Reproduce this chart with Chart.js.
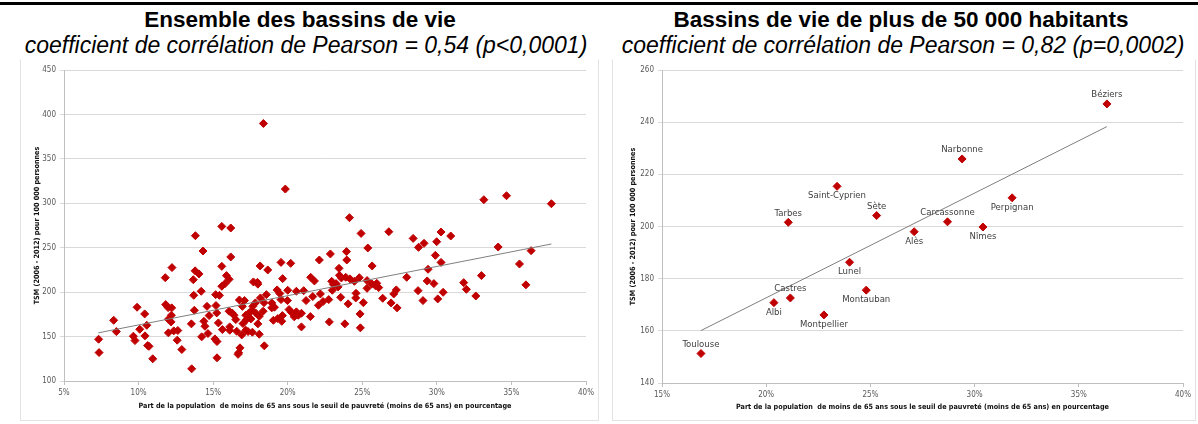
<!DOCTYPE html>
<html><head><meta charset="utf-8">
<script src="https://cdn.jsdelivr.net/npm/chart.js@4.4.0/dist/chart.umd.min.js"></script>
<style>
body{margin:0;width:1198px;height:424px;background:#fff;position:relative;overflow:hidden;font-family:'Liberation Sans',Arial,sans-serif}
.bar{position:absolute;left:0;top:2px;width:1198px;height:3px;background:#000}
.t{position:absolute;width:640px;text-align:center;white-space:nowrap;color:#000}
.t1{font-weight:bold;font-size:22.5px;line-height:22px;top:9px}
.t2{font-style:italic;font-size:23px;line-height:23px;top:34px}
.frame{position:absolute;border:1px solid #e3e3e3;border-top-color:#fff;box-sizing:border-box}
canvas{position:absolute}
</style></head><body>
<div class="bar"></div>
<div class="t t1" style="left:-20px">Ensemble des bassins de vie</div>
<div class="t t2" style="left:-14px">coefficient de corrélation de Pearson = 0,54 (p&lt;0,0001)</div>
<div class="t t1" style="left:581px">Bassins de vie de plus de 50 000 habitants</div>
<div class="t t2" style="left:583px">coefficient de corrélation de Pearson = 0,82 (p=0,0002)</div>
<div class="frame" style="left:20px;top:59px;width:579px;height:362px"></div>
<div class="frame" style="left:612px;top:59px;width:584px;height:362px"></div>
<canvas id="c1" width="578" height="360" style="left:20px;top:60px"></canvas>
<canvas id="c2" width="584" height="360" style="left:612px;top:60px"></canvas>
<script>
// ---- Left chart: all living areas ----
const leftX = [19.84,15.58,16.18,13.81,14.32,16.18,15.58,12.24,11.79,13.79,14.05,13.67,15.89,16.07,15.8,15.58,18.15,18.66,19.55,20.2,19.66,21.54,17.7,17.97,18.0,14.2,13.7,15.17,15.42,16.76,17.1,18.17,18.57,19.29,19.47,20.0,20.58,21.07,21.68,21.23,19.98,19.55,18.93,18.41,17.83,17.66,16.96,14.59,15.19,9.9,11.82,11.98,12.22,10.41,12.2,13.74,15.24,14.73,16.07,16.27,16.4,16.52,17.19,17.36,17.58,17.85,18.09,17.24,17.53,18.35,18.93,19.11,19.04,19.33,19.64,19.6,20.09,20.25,20.58,20.71,20.44,20.92,21.52,20.92,8.33,8.51,7.32,7.35,9.65,9.76,10.08,10.55,10.43,10.61,10.7,10.95,12.0,12.18,12.0,12.36,12.63,12.59,12.9,13.54,13.56,14.23,14.38,14.45,14.65,15.12,15.26,15.26,15.35,15.62,16.11,16.11,16.58,16.92,17.19,17.34,17.63,18.09,16.8,16.71,16.67,18.43,17.0,18.0,18.37,
24.14,24.92,26.78,25.37,23.94,23.96,22.12,22.86,25.66,23.44,21.79,22.95,23.06,23.47,23.6,23.89,24.18,24.47,24.8,23.38,23.24,25.32,25.64,25.32,25.88,26.1,25.97,22.19,22.06,22.37,22.75,22.99,23.55,24.05,24.58,24.56,25.07,24.85,24.87,22.79,23.83,26.37,26.93,27.11,27.28,27.33,27.98,28.41,28.77,29.14,29.99,30.28,30.93,29.9,30.28,29.41,28.74,29.35,29.8,29.07,30.06,30.42,31.8,31.98,32.61,32.99,33.15,34.67,37.68,34.11,36.32,35.54,35.97];
const leftY = [316,274,272.2,263.5,246.3,239.6,229,227.6,216.3,224,220.5,214,218.6,214.4,209.6,206.6,229.5,225,233.5,232.4,215.2,216.7,211.5,211,209,201,196.4,197.2,196.4,191.2,190.5,193.5,197.2,202.5,198.4,202.1,201,201.7,195,190.5,190.5,191.6,187.9,188.2,187.9,184,184,184,184.9,183,186,182.6,182.3,175.5,174,179.6,176.6,173.6,178.5,176.6,174,169.1,174,175.9,179.2,176.6,172.8,169.1,169.9,178.5,182.3,183,168.3,170.2,173.6,167.2,180.4,177.3,177.8,174,172.2,176.2,172.5,160.9,168.3,155.6,147,132,150.4,145.5,158.2,162.7,150.8,139.9,139,125,169.5,166.5,154.2,156.4,156.8,145.9,135.4,164.3,113.7,149.7,167.2,161.6,153.4,147.4,144.4,126.1,165.4,157.9,160.9,157.1,156,151.9,157.1,155.6,154.9,152.6,137.3,131.7,130,139.6,164.6,164.3,389.8,
283.8,266.1,268,249.7,245.6,236.2,236.2,243,229.5,226.8,212.6,212.2,208.5,218.9,216,216.7,214.9,212.2,216.3,205.9,209.6,213,209.3,204.3,207.3,205.1,209.9,198,185.2,189.4,191.6,202.1,194.2,186.8,198.7,193.5,188.2,175.5,159.8,166.5,164.3,193.1,187.9,198,202.5,182.3,216.7,260.5,250.4,254.9,256.8,267.7,263.2,241.4,233.5,225.7,201.7,212.6,209.6,190.5,192.4,199.8,210.7,203.2,195.7,218.6,304,308.5,299.5,250.8,246.7,231.7,208.2];
const leftTrendX = [7.3, 37.68];
const leftTrendY = [154.2, 254.2];

// ---- Right chart: living areas > 50 000 inhabitants ----
const rightNames = ['Béziers','Narbonne','Perpignan','Carcassonne','Nîmes','Alès','Sète','Saint-Cyprien','Tarbes','Lunel','Montauban','Castres','Albi','Montpellier','Toulouse'];
const rightX = [36.35,29.4,31.8,28.7,30.4,27.1,25.3,23.4,21.06,24.0,24.8,21.16,20.37,22.77,16.87];
const rightY = [247,225.9,211,201.8,199.8,198,204.2,215.4,201.6,186.3,175.6,172.6,170.8,166.1,151.3];
const rightLabelPos = ['above','above','below','above','below','below','above','below','above','below','below','above','below','below','above'];
const rightTrendX = [16.87, 36.35];
const rightTrendY = [160.1, 238.3];

// ---- Axis ticks / titles ----
const leftXTicks = [5,10,15,20,25,30,35,40];
const leftYTicks = [100,150,200,250,300,350,400,450];
const rightXTicks = [15,20,25,30,35,40];
const rightYTicks = [140,160,180,200,220,240,260];
const yTitle = 'TSM (2006 - 2012) pour 100 000 personnes';
const xTitle = 'Part de la population  de moins de 65 ans sous le seuil de pauvreté (moins de 65 ans) en pourcentage';

const FONT = "'Liberation Sans Narrow','DejaVu Sans Condensed','Liberation Sans',sans-serif";
Chart.defaults.font.family = FONT;
Chart.defaults.devicePixelRatio = 1;

const RED = '#c00000';
function pts(xs, ys){ return xs.map((x,i)=>({x:x, y:ys[i]})); }

function makeChart(id, cfg){
  const ds = [
    {data: pts(cfg.px, cfg.py), pointStyle:'rectRot', pointRadius:4, pointBorderWidth:1,
     backgroundColor:RED, borderColor:RED, showLine:false, order:1},
    {data: pts(cfg.tx, cfg.ty), showLine:true, pointRadius:0, borderColor:'#7f7f7f', borderWidth:1, order:0}
  ];
  return new Chart(document.getElementById(id), {
    type:'scatter',
    data:{datasets:ds},
    plugins: cfg.plugins || [],
    options:{
      responsive:false, animation:false, devicePixelRatio:1,
      layout:{padding:{left:0,right:cfg.padR,top:cfg.padT,bottom:0}},
      plugins:{legend:{display:false}, tooltip:{enabled:false}},
      scales:{
        x:{type:'linear', min:cfg.xTicks[0], max:cfg.xTicks[cfg.xTicks.length-1],
           afterBuildTicks: s => { s.ticks = cfg.xTicks.map(v=>({value:v})); },
           afterFit: s => { s.height = cfg.xH; },
           ticks:{color:'#595959', font:{size:8}, padding:3, maxRotation:0, callback:v=>v+'%'},
           grid:{drawOnChartArea:false, color:'#bfbfbf', tickLength:4},
           border:{color:'#bfbfbf'},
           title:{display:true, text:xTitle, color:'#111', font:{size:7.2, weight:'bold'}, padding:{top:0,bottom:cfg.xTitlePad}}},
        y:{type:'linear', min:cfg.yTicks[0], max:cfg.yTicks[cfg.yTicks.length-1],
           afterBuildTicks: s => { s.ticks = cfg.yTicks.map(v=>({value:v})); },
           afterFit: s => { s.width = cfg.yW; },
           ticks:{color:'#595959', font:{size:8}, padding:4},
           grid:{color:'#d9d9d9', tickLength:4},
           border:{color:'#bfbfbf'},
           title:{display:true, text:yTitle, color:'#111', font:{size:7.2, weight:'bold'}, padding:{top:cfg.yTitlePad,bottom:0}}}
      }
    }
  });
}

const labelPlugin = {
  id:'cityLabels',
  afterDatasetsDraw(chart){
    const ctx = chart.ctx;
    const meta = chart.getDatasetMeta(0);
    ctx.save();
    ctx.font = "9.5px " + FONT;
    ctx.fillStyle = '#404040';
    ctx.textAlign = 'center';
    ctx.textBaseline = 'middle';
    meta.data.forEach((el, i) => {
      const dy = rightLabelPos[i] === 'above' ? -9 : 9.5;
      ctx.fillText(rightNames[i], el.x, el.y + dy);
    });
    ctx.restore();
  }
};

makeChart('c1', {px:leftX, py:leftY, tx:leftTrendX, ty:leftTrendY,
  xTicks:leftXTicks, yTicks:leftYTicks, padR:12, padT:10, xH:39, yW:44, xTitlePad:10, yTitlePad:12.5});
makeChart('c2', {px:rightX, py:rightY, tx:rightTrendX, ty:rightTrendY,
  xTicks:rightXTicks, yTicks:rightYTicks, padR:13, padT:10, xH:37, yW:50, xTitlePad:9, yTitlePad:16.5,
  plugins:[labelPlugin]});
</script>
</body></html>
